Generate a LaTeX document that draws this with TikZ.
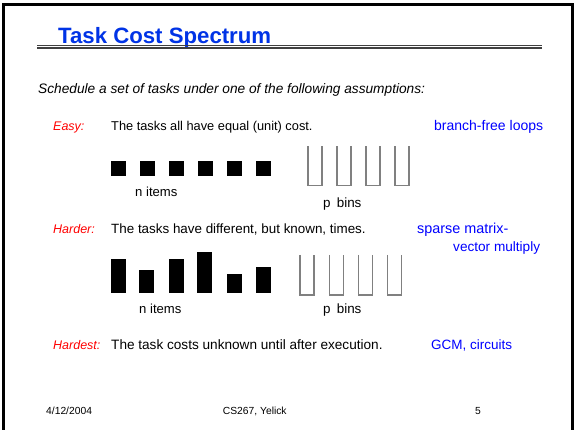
\documentclass[tikz,border=0pt]{standalone}
\usepackage{fontspec}
\setmainfont{Liberation Sans}
\newcommand{\fs}[1]{\fontsize{#1}{#1}\selectfont}
\begin{document}
\begin{tikzpicture}[x=1pt,y=-1pt,
  txt/.style={anchor=base west,inner sep=0pt,font=\fs{13.4}},
  lbl/.style={txt,text=red,font=\fs{12.5}\itshape},
  ex/.style={txt,text=blue},
  foot/.style={anchor=base west,inner sep=0pt,font=\fs{10.3}},
  item/.style={fill=black},
  bin/.style={draw=black!50,line width=1.3pt}]
\useasboundingbox (0,0) rectangle (574,430);
\fill[white] (0,0) rectangle (574,430);
% frame
\draw[line width=2.6pt] (3.3,432) -- (3.3,4.3) -- (572.7,4.3) -- (572.7,432);
% title
\node[anchor=base west,inner sep=0pt,text={rgb,255:red,0;green,51;blue,230},font=\fs{22.2}\bfseries] (title) at (58,43.5) {Task Cost Spectrum};
\draw[black!75,line width=1.5pt] (37,45.5) -- (541.5,45.5);
\draw[black!75,line width=1.1pt] (37,48) -- (541.5,48);
% intro
\node[txt,font=\fs{13.7}\itshape] (intro) at (38,93.5) {Schedule a set of tasks under one of the following assumptions:};
% easy
\node[lbl] (easy) at (53,131) {Easy:};
\node[txt,font=\fs{12.8}] (easyt) at (111,131) {The tasks all have equal (unit) cost.};
\node[ex,font=\fs{14}] (easyx) at (434,131) {branch-free loops};
\foreach \i in {0,...,5} {
  \fill[item] (110.5+29*\i,161) rectangle ++(15,15);
}
\node[txt,font=\fs{13.1}] (n1) at (135,197) {n items};
\foreach \i in {0,...,3} {
  \draw[bin] (308+29*\i,146.5) -- (308+29*\i,185.5) -- (322+29*\i,185.5) -- (322+29*\i,146.5);
}
\node[txt] (p1) at (323,207.5) {p\hspace{2.5pt} bins};
% harder
\node[lbl] (harder) at (53,234) {Harder:};
\node[txt] (hardert) at (111,234) {The tasks have different, but known, times.};
\node[ex,font=\fs{14.4}] (harderx1) at (417,234) {sparse matrix-};
\node[ex,font=\fs{13.6}] (harderx2) at (453,251.5) {vector multiply};
\foreach \x/\t in {110.5/259.3, 139.3/270, 168.7/259.3, 197.3/252, 226.7/274, 255.7/266.7} {
  \fill[item] (\x,\t) rectangle (\x+15,292.7);
}
\node[txt,font=\fs{13.1}] (n2) at (139,314) {n items};
\foreach \i in {0,...,3} {
  \draw[bin] (300+29.2*\i,255) -- (300+29.2*\i,295) -- (314+29.2*\i,295) -- (314+29.2*\i,255);
}
\node[txt] (p2) at (323,314) {p\hspace{2.5pt} bins};
% hardest
\node[lbl] (hardest) at (53,350) {Hardest:};
\node[txt,font=\fs{13.6}] (hardestt) at (111,350) {The task costs unknown until after execution.};
\node[ex,font=\fs{13.5}] (hardestx) at (431,350) {GCM, circuits};
% footer
\node[foot] (date) at (46,414.3) {4/12/2004};
\node[foot] (course) at (222.7,414.3) {CS267, Yelick};
\node[foot] (page) at (475,414.3) {5};
\end{tikzpicture}
\end{document}
